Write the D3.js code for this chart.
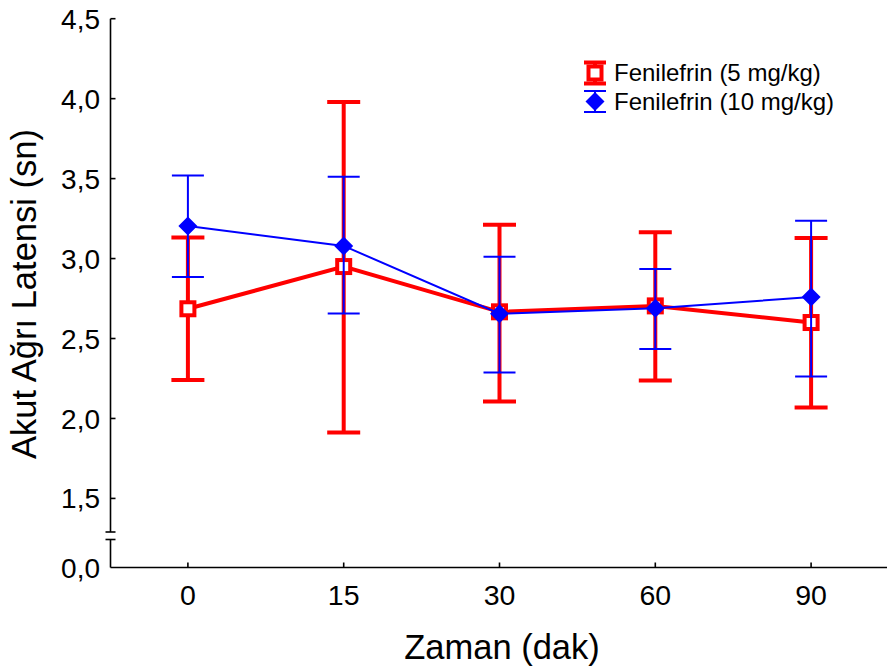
<!DOCTYPE html>
<html>
<head>
<meta charset="utf-8">
<script src="https://cdn.jsdelivr.net/npm/d3@7"></script>
<style>
  html, body { margin: 0; padding: 0; background: #fff; }
  svg { display: block; font-family: "Liberation Sans", Arial, sans-serif; }
</style>
</head>
<body>
<script>
// ---- data ----
const categories = ["0", "15", "30", "60", "90"];
const seriesNames = ["Fenilefrin (5 mg/kg)", "Fenilefrin (10 mg/kg)"];
const mean5 = [2.686, 2.950, 2.667, 2.704, 2.600];
const upper5 = [3.131, 3.979, 3.211, 3.165, 3.129];
const lower5 = [2.240, 1.912, 2.106, 2.238, 2.069];
const mean10 = [3.204, 3.079, 2.655, 2.690, 2.759];
const upper10 = [3.519, 3.512, 3.012, 2.934, 3.237];
const lower10 = [2.884, 2.656, 2.288, 2.434, 2.262];
const yTicksUpper = [1.5, 2.0, 2.5, 3.0, 3.5, 4.0, 4.5];
const yTicksLower = [0.0];
const xTitle = "Zaman (dak)";
const yTitle = "Akut Ağrı Latensi (sn)";

const W = 887, H = 669;
const svg = d3.select("body").append("svg").attr("width", W).attr("height", H);

const axisX = 110.5;
const baseY = 567.5;
const x = d3.scalePoint().domain(categories).range([110, 889]).padding(0.5);
const yU = d3.scaleLinear().domain([1.29, 4.5]).range([532, 18.7]);
const yL = d3.scaleLinear().domain([0, 0.175]).range([baseY, 539.5]);
const fmt = v => d3.format(".1f")(v).replace(".", ",");

// ---- axes ----
const ax = svg.append("g").attr("stroke", "#000").attr("stroke-width", 1.6).attr("fill", "none");
ax.append("line").attr("x1", axisX).attr("x2", axisX).attr("y1", yU(4.5)).attr("y2", yU(1.29));
ax.append("line").attr("x1", axisX - 5).attr("x2", axisX + 5).attr("y1", yU(1.29)).attr("y2", yU(1.29));
ax.append("line").attr("x1", axisX).attr("x2", axisX).attr("y1", yL(0.175)).attr("y2", baseY);
ax.append("line").attr("x1", axisX - 5).attr("x2", axisX + 5).attr("y1", yL(0.175)).attr("y2", yL(0.175));
ax.append("line").attr("x1", axisX).attr("x2", 887).attr("y1", baseY).attr("y2", baseY);

const tickG = svg.append("g");
yTicksUpper.forEach(v => {
  tickG.append("line").attr("x1", axisX).attr("x2", axisX + 5).attr("y1", yU(v)).attr("y2", yU(v))
    .attr("stroke", "#000").attr("stroke-width", 1.6);
  tickG.append("text").attr("x", 100).attr("y", yU(v)).attr("dy", "0.36em")
    .attr("text-anchor", "end").attr("font-size", 28).attr("fill", "#000").text(fmt(v));
});
yTicksLower.forEach(v => {
  tickG.append("text").attr("x", 100).attr("y", yL(v)).attr("dy", "0.36em")
    .attr("text-anchor", "end").attr("font-size", 28).attr("fill", "#000").text(fmt(v));
});
categories.forEach(c => {
  tickG.append("line").attr("x1", x(c)).attr("x2", x(c)).attr("y1", baseY).attr("y2", baseY - 5)
    .attr("stroke", "#000").attr("stroke-width", 1.6);
  tickG.append("text").attr("x", x(c)).attr("y", 605)
    .attr("text-anchor", "middle").attr("font-size", 28.5).attr("fill", "#000").text(c);
});

svg.append("text").attr("x", 502).attr("y", 659).attr("text-anchor", "middle")
  .attr("font-size", 34.5).attr("fill", "#000").text(xTitle);
svg.append("text").attr("transform", "translate(36,294) rotate(-90)").attr("text-anchor", "middle")
  .attr("font-size", 34.5).attr("fill", "#000").text(yTitle);

// ---- series ----
const series = [
  { name: seriesNames[0], mean: mean5, up: upper5, lo: lower5, color: "#ff0000", lw: 4, barW: 4, capW: 4, capHalf: 16.5, marker: "square" },
  { name: seriesNames[1], mean: mean10, up: upper10, lo: lower10, color: "#0000ff", lw: 2, barW: 2, capW: 2, capHalf: 16, marker: "diamond" }
];

function drawMarker(g, kind, cx, cy, color) {
  if (kind === "square") {
    g.append("rect").attr("x", cx - 6.5).attr("y", cy - 6.5).attr("width", 13).attr("height", 13)
      .attr("fill", "#fff").attr("stroke", color).attr("stroke-width", 4);
  } else {
    const r = 9.5;
    g.append("path").attr("d", `M${cx},${cy - r}L${cx + r},${cy}L${cx},${cy + r}L${cx - r},${cy}Z`)
      .attr("fill", color);
  }
}

series.forEach(s => {
  const g = svg.append("g");
  categories.forEach((c, i) => {
    g.append("line").attr("x1", x(c)).attr("x2", x(c)).attr("y1", yU(s.up[i])).attr("y2", yU(s.lo[i]))
      .attr("stroke", s.color).attr("stroke-width", s.barW);
    [s.up[i], s.lo[i]].forEach(v => {
      g.append("line").attr("x1", x(c) - s.capHalf).attr("x2", x(c) + s.capHalf)
        .attr("y1", yU(v)).attr("y2", yU(v)).attr("stroke", s.color).attr("stroke-width", s.capW);
    });
  });
  const line = d3.line().x((d, i) => x(categories[i])).y(d => yU(d));
  g.append("path").attr("d", line(s.mean)).attr("fill", "none").attr("stroke", s.color).attr("stroke-width", s.lw);
  categories.forEach((c, i) => drawMarker(g, s.marker, x(c), yU(s.mean[i]), s.color));
});

// ---- legend ----
const leg = svg.append("g");
const legRows = [73, 101.5];
series.forEach((s, k) => {
  const cy = legRows[k];
  const cx = 595;
  leg.append("line").attr("x1", cx).attr("x2", cx).attr("y1", cy - 10.5).attr("y2", cy + 10.5)
    .attr("stroke", s.color).attr("stroke-width", s.barW);
  [cy - 10.5, cy + 10.5].forEach(yy => {
    leg.append("line").attr("x1", cx - 11).attr("x2", cx + 11).attr("y1", yy).attr("y2", yy)
      .attr("stroke", s.color).attr("stroke-width", s.capW);
  });
  drawMarker(leg, s.marker, cx, cy, s.color);
  leg.append("text").attr("x", 614).attr("y", cy + 8).attr("font-size", 24).attr("fill", "#000").text(s.name);
});
</script>
</body>
</html>
